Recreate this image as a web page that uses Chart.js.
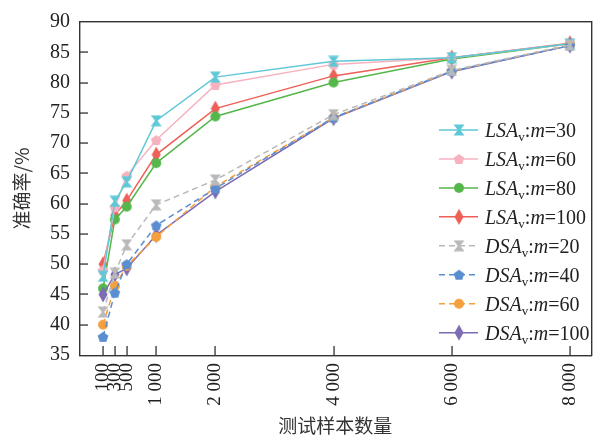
<!DOCTYPE html>
<html>
<head>
<meta charset="utf-8">
<script src="https://cdn.jsdelivr.net/npm/chart.js@4.4.1/dist/chart.umd.min.js"></script>
<style>
  html, body { margin: 0; padding: 0; background: #fff; }
  #wrap { width: 601px; height: 437px; position: relative; }
</style>
</head>
<body>
<div id="wrap"><canvas id="c" width="601" height="437"></canvas></div>
<script>
// Test sample counts on the x axis and their printed labels
const sampleSizes = [100, 300, 500, 1000, 2000, 4000, 6000, 8000];
const tickLabels = ['100', '300', '500', '1 000', '2 000', '4 000', '6 000', '8 000'];
const yTickValues = [35, 40, 45, 50, 55, 60, 65, 70, 75, 80, 85, 90];

// Accuracy (%) per series
const lsaM30  = [48.0, 60.4, 63.6, 73.7, 80.9, 83.5, 84.1, 86.4];
const lsaM60  = [49.0, 59.4, 64.6, 70.5, 79.6, 83.0, 84.1, 86.4];
const lsaM80  = [46.0, 57.4, 59.5, 66.7, 74.4, 80.0, 83.9, 86.4];
const lsaM100 = [50.0, 58.1, 60.5, 68.1, 75.7, 81.1, 84.1, 86.5];
const dsaM20  = [42.1, 48.5, 53.2, 59.8, 63.9, 74.7, 82.0, 86.2];
const dsaM40  = [38.0, 45.3, 50.0, 56.4, 62.5, 74.2, 81.9, 86.1];
const dsaM60  = [40.0, 46.4, 49.7, 54.5, 62.8, 74.2, 81.9, 86.2];
const dsaM100 = [45.0, 48.3, 49.3, 54.8, 62.0, 74.1, 81.8, 86.1];

const seriesNames = [
  ['LSA', '30'], ['LSA', '60'], ['LSA', '80'], ['LSA', '100'],
  ['DSA', '20'], ['DSA', '40'], ['DSA', '60'], ['DSA', '100']
];

const SERIF = '"Liberation Serif", "Times New Roman", "Noto Sans CJK SC", serif';
const CJK = '"Noto Sans CJK SC", "Liberation Serif", sans-serif';

// Marker sprites
function sprite(w, h, color, draw) {
  const cv = document.createElement('canvas');
  cv.width = w; cv.height = h;
  const g = cv.getContext('2d');
  g.fillStyle = color;
  g.translate(w / 2, h / 2);
  draw(g);
  return cv;
}
function hourglass(color) {
  return sprite(12, 12, color, g => {
    g.beginPath();
    g.moveTo(-5.5, -5.5); g.lineTo(5.5, -5.5); g.lineTo(1.2, 0);
    g.lineTo(5.5, 5.5); g.lineTo(-5.5, 5.5); g.lineTo(-1.2, 0);
    g.closePath(); g.fill();
  });
}
function pentagon(color) {
  return sprite(12, 12, color, g => {
    g.beginPath();
    for (let i = 0; i < 5; i++) {
      const a = -Math.PI / 2 + i * 2 * Math.PI / 5;
      const x = 5.6 * Math.cos(a), y = 5.6 * Math.sin(a) + 0.5;
      i ? g.lineTo(x, y) : g.moveTo(x, y);
    }
    g.closePath(); g.fill();
  });
}
function circle(color) {
  return sprite(12, 12, color, g => {
    g.beginPath(); g.arc(0, 0, 5, 0, Math.PI * 2); g.fill();
  });
}
function tallDiamond(color) {
  return sprite(10, 17, color, g => {
    g.beginPath();
    g.moveTo(0, -8); g.lineTo(4.5, 0); g.lineTo(0, 8); g.lineTo(-4.5, 0);
    g.closePath(); g.fill();
  });
}

const colors = ['#5ec8d6', '#f7b2c0', '#55b64a', '#ee5f58', '#b9b9b9', '#5b8ed1', '#f5a03c', '#7d6cb4'];
const markers = [
  hourglass(colors[0]), pentagon(colors[1]), circle(colors[2]), tallDiamond(colors[3]),
  hourglass(colors[4]), pentagon(colors[5]), circle(colors[6]), tallDiamond(colors[7])
];
const dashes = [[], [], [], [], [6, 4], [6, 4], [6, 4], []];
const values = [lsaM30, lsaM60, lsaM80, lsaM100, dsaM20, dsaM40, dsaM60, dsaM100];

const datasets = values.map((vals, i) => ({
  label: seriesNames[i][0] + 'v:m=' + seriesNames[i][1],
  data: sampleSizes.map((x, k) => ({ x, y: vals[k] })),
  borderColor: colors[i],
  backgroundColor: colors[i],
  borderWidth: 1.5,
  borderDash: dashes[i],
  pointStyle: markers[i],
  pointRadius: 5,
  tension: 0
}));
// draw DSA series first, LSA on top
const ordered = datasets.slice(4).concat(datasets.slice(0, 4));

// Frame, inward tick marks and the legend
const framePlugin = {
  id: 'frame',
  afterDraw(chart) {
    const ctx = chart.ctx;
    const a = chart.chartArea;
    const sx = chart.scales.x, sy = chart.scales.y;
    ctx.save();
    ctx.setLineDash([]);
    ctx.globalAlpha = 1;
    ctx.fillStyle = '#333';
    const L = Math.round(a.left), R = Math.round(a.right);
    const T = Math.round(a.top), B = Math.round(a.bottom);
    ctx.fillRect(L - 1, T - 1, R - L + 2, 1.4);
    ctx.fillRect(L - 1, B, R - L + 2, 1.4);
    ctx.fillRect(L - 1, T - 1, 1.4, B - T + 2);
    ctx.fillRect(R, T - 1, 1.4, B - T + 2);
    yTickValues.forEach(v => {
      if (v === 35 || v === 90) return;
      const y = Math.round(sy.getPixelForValue(v));
      ctx.fillRect(L, y - 0.6, 8, 1.3);
    });
    sampleSizes.forEach(v => {
      const x = Math.round(sx.getPixelForValue(v));
      ctx.fillRect(x - 0.6, B - 9, 1.3, 9);
    });

    // legend
    const x0 = 439, x1 = 478, tx = 485;
    values.forEach((_, i) => {
      const y = 130 + i * 28.95;
      ctx.strokeStyle = colors[i];
      ctx.lineWidth = 1.5;
      ctx.setLineDash(dashes[i]);
      ctx.beginPath(); ctx.moveTo(x0, y); ctx.lineTo(x1, y); ctx.stroke();
      ctx.setLineDash([]);
      const m = markers[i];
      ctx.drawImage(m, 459 - m.width / 2, y - m.height / 2);

      ctx.fillStyle = '#222';
      ctx.textBaseline = 'alphabetic';
      ctx.textAlign = 'left';
      const base = y + 7;
      let x = tx;
      const put = (t, font, dy) => {
        ctx.font = font;
        ctx.fillText(t, x, base + (dy || 0));
        x += ctx.measureText(t).width;
      };
      put(seriesNames[i][0], 'italic 20px ' + SERIF);
      put('v', '13px ' + SERIF, 4);
      put(':', '20px ' + SERIF);
      put('m', 'italic 20px ' + SERIF);
      put('=' + seriesNames[i][1], '20px ' + SERIF);
    });
    ctx.restore();
  }
};

new Chart(document.getElementById('c'), {
  type: 'line',
  data: { datasets: ordered },
  plugins: [framePlugin],
  options: {
    responsive: false,
    animation: false,
    layout: { padding: { top: 17, right: 4, left: 0, bottom: 0 } },
    plugins: { legend: { display: false }, tooltip: { enabled: false } },
    scales: {
      x: {
        type: 'linear',
        min: -290,
        max: 8350,
        grid: { display: false, drawTicks: false },
        border: { display: false },
        afterBuildTicks: s => { s.ticks = sampleSizes.map(v => ({ value: v })); },
        afterFit: s => { s.height = 82; },
        ticks: {
          autoSkip: false,
          minRotation: 90,
          maxRotation: 90,
          padding: 8,
          color: '#222',
          font: { family: SERIF, size: 19 },
          callback: v => tickLabels[sampleSizes.indexOf(v)]
        },
        title: {
          display: true,
          text: '测试样本数量',
          color: '#333',
          font: { family: CJK, size: 19 },
          padding: { top: 0, bottom: 0 }
        }
      },
      y: {
        min: 35,
        max: 90,
        grid: { display: false, drawTicks: false },
        border: { display: false },
        afterBuildTicks: s => { s.ticks = yTickValues.map(v => ({ value: v })); },
        afterFit: s => { s.width = 80; },
        ticks: {
          padding: 10,
          color: '#222',
          font: { family: SERIF, size: 20 }
        },
        title: {
          display: true,
          text: '准确率/%',
          color: '#333',
          font: { family: CJK, size: 19 },
          padding: { top: 10, bottom: 0 }
        }
      }
    }
  }
});
</script>
</body>
</html>
